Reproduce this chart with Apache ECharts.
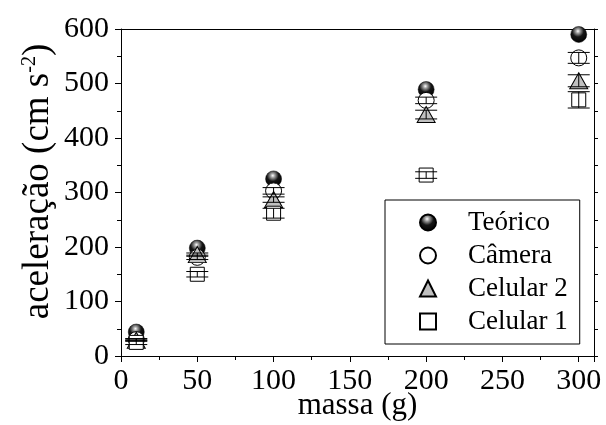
<!DOCTYPE html>
<html>
<head>
<meta charset="utf-8">
<script src="https://cdn.jsdelivr.net/npm/echarts@6/dist/echarts.min.js"></script>
<style>html,body{margin:0;padding:0;background:#fff}#c{width:606px;height:425px}</style>
</head>
<body>
<div id="c"></div>
<script>
const massa = [10, 50, 100, 200, 300];
const teorico = [44, 198, 325, 489, 590];
const camera = [30, 181, 303, 469, 547];
const cameraErr = [2, 4, 6, 6, 10];
const celular2 = [29, 186, 287, 443, 505];
const celular2Err = [2, 3, 5, 8, 11];
const celular1 = [25, 150, 262, 332, 470];
const celular1Err = [4, 5, 9, 6, 15];
const xTicks = [0, 50, 100, 150, 200, 250, 300];
const yTicks = [0, 100, 200, 300, 400, 500, 600];

const FONT = 'Liberation Serif';
const chart = echarts.init(document.getElementById('c'), null, {renderer: 'canvas'});

function pts(ys) { return massa.map((x, i) => [x, ys[i]]); }
function errData(ys, es) { return massa.map((x, i) => [x, ys[i], es[i]]); }

function errSeries(name, ys, es) {
  return {
    type: 'custom', name: name, z: 6,
    data: errData(ys, es),
    renderItem: function (params, api) {
      const x = api.value(0), y = api.value(1), e = api.value(2);
      const lo = api.coord([x, y - e]);
      const hi = api.coord([x, y + e]);
      const hw = 11;
      const st = {stroke: '#000', lineWidth: 1};
      return {
        type: 'group',
        children: [
          {type: 'line', shape: {x1: lo[0], y1: lo[1], x2: hi[0], y2: hi[1]}, style: st},
          {type: 'line', shape: {x1: lo[0] - hw, y1: lo[1], x2: lo[0] + hw, y2: lo[1]}, style: st},
          {type: 'line', shape: {x1: hi[0] - hw, y1: hi[1], x2: hi[0] + hw, y2: hi[1]}, style: st}
        ]
      };
    }
  };
}

const ball = {
  type: 'radial', x: 0.45, y: 0.3, r: 0.7,
  colorStops: [
    {offset: 0, color: '#ffffff'},
    {offset: 0.18, color: '#a0a0a0'},
    {offset: 0.5, color: '#151515'},
    {offset: 1, color: '#000000'}
  ]
};

const option = {
  animation: false,
  backgroundColor: '#fff',
  grid: {left: 121, right: 12, top: 29, bottom: 69, containLabel: false, outerBoundsMode: 'none'},
  legend: {
    orient: 'vertical', left: 385, top: 200,
    data: ['Teórico', 'Câmera', 'Celular 2', 'Celular 1'],
    padding: [9, 12, 9, 34],
    itemWidth: 16, itemHeight: 16, itemGap: 6,
    borderColor: '#000', borderWidth: 1, borderRadius: 0,
    textStyle: {fontFamily: FONT, fontSize: 27, color: '#000', lineHeight: 27, padding: [0, 0, 0, 27]},
    selectedMode: false
  },
  xAxis: [{
    type: 'value', min: 0, max: 310, interval: 50, position: 'bottom',
    name: 'massa (g)', nameLocation: 'middle', nameGap: 34, nameMoveOverlap: false,
    nameTextStyle: {fontFamily: FONT, fontSize: 31, color: '#000'},
    axisLine: {show: true, lineStyle: {color: '#000', width: 1}},
    axisTick: {show: true, inside: false, length: 6, lineStyle: {color: '#000'}},
    minorTick: {show: true, splitNumber: 2, length: 4, lineStyle: {color: '#000'}},
    splitLine: {show: false},
    axisLabel: {fontFamily: FONT, fontSize: 30, color: '#000', margin: 10, showMaxLabel: false,
      formatter: v => (xTicks.indexOf(v) >= 0 ? String(v) : '')}
  }, {
    type: 'value', min: 0, max: 310, position: 'top',
    axisLine: {show: true, onZero: false, lineStyle: {color: '#000', width: 1}},
    axisTick: {show: false}, axisLabel: {show: false}, splitLine: {show: false}
  }],
  yAxis: [{
    type: 'value', min: 0, max: 600, interval: 100, position: 'left',
    name: 'aceleração (cm s{sup|-2})', nameLocation: 'middle', nameGap: 64, nameRotate: 90,
    nameMoveOverlap: false,
    nameTextStyle: {fontFamily: FONT, fontSize: 37, color: '#000', padding: [0, 0, 0, 22],
      rich: {sup: {fontFamily: FONT, fontSize: 20, color: '#000', verticalAlign: 'top'}}},
    axisLine: {show: true, lineStyle: {color: '#000', width: 1}},
    axisTick: {show: true, inside: false, length: 6, lineStyle: {color: '#000'}},
    minorTick: {show: true, splitNumber: 2, length: 4, lineStyle: {color: '#000'}},
    splitLine: {show: false},
    axisLabel: {fontFamily: FONT, fontSize: 30, color: '#000', margin: 12,
      formatter: v => (yTicks.indexOf(v) >= 0 ? String(v) : '')}
  }, {
    type: 'value', min: 0, max: 600, interval: 100, position: 'right',
    axisLine: {show: true, onZero: false, lineStyle: {color: '#000', width: 1}},
    axisTick: {show: true, inside: false, length: 4, lineStyle: {color: '#000'}},
    minorTick: {show: true, splitNumber: 2, length: 4, lineStyle: {color: '#000'}},
    axisLabel: {show: false}, splitLine: {show: false}
  }],
  series: [
    {name: 'Teórico', type: 'scatter', z: 2, symbol: 'circle', symbolSize: 16,
      data: pts(teorico), itemStyle: {color: ball, borderColor: '#000', borderWidth: 0.5, opacity: 1}},
    {name: 'Câmera', type: 'scatter', z: 3, symbol: 'circle', symbolSize: 16,
      data: pts(camera), itemStyle: {color: '#fff', borderColor: '#000', borderWidth: 1, opacity: 1}},
    {name: 'Celular 2', type: 'scatter', z: 4, symbol: 'triangle', symbolSize: [18, 16],
      data: pts(celular2), itemStyle: {color: '#c0c0c0', borderColor: '#000', borderWidth: 1, opacity: 1}},
    {name: 'Celular 1', type: 'scatter', z: 4, symbol: 'rect', symbolSize: 14,
      data: pts(celular1), itemStyle: {color: '#fff', borderColor: '#000', borderWidth: 1, opacity: 1}},
    errSeries('errCamera', camera, cameraErr),
    errSeries('errCel2', celular2, celular2Err),
    errSeries('errCel1', celular1, celular1Err)
  ]
};
chart.setOption(option);
</script>
</body>
</html>
